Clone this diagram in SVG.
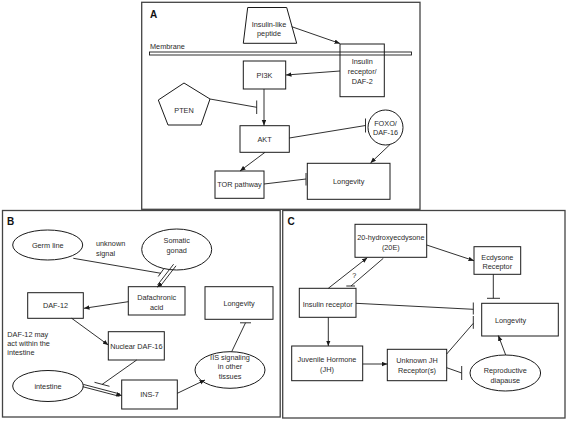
<svg xmlns="http://www.w3.org/2000/svg" width="567" height="421" viewBox="0 0 567 421">
<defs>
<marker id="ah" markerUnits="userSpaceOnUse" markerWidth="6" markerHeight="5" refX="5.5" refY="2.25" orient="auto">
<path d="M0,0 L5.5,2.25 L0,4.5 z" fill="#1a1a1a"/>
</marker>
</defs>
<style>
.frame{fill:none;stroke:#444;stroke-width:1.3}
.n{fill:#fff;stroke:#1a1a1a;stroke-width:1}
.nf{fill:none;stroke:#1a1a1a;stroke-width:1}
.e{fill:none;stroke:#1a1a1a;stroke-width:0.9}
.a{marker-end:url(#ah)}
text{font-family:"Liberation Sans",Arial,sans-serif;font-size:7.3px;fill:#2a2a2a;text-anchor:middle}
.l{text-anchor:start}
.p{font-size:10px;font-weight:bold;fill:#111;text-anchor:start}
</style>
<rect width="567" height="421" fill="#fff"/>
<!-- frames -->
<rect class="frame" x="141.7" y="2.3" width="278.3" height="207"/>
<rect class="frame" x="2.5" y="210.5" width="277.7" height="206.5"/>
<rect class="frame" x="282.7" y="210.5" width="282.3" height="207.5"/>
<text class="p" x="150" y="18">A</text>
<text class="p" x="7" y="224.5">B</text>
<text class="p" x="287.5" y="224.5">C</text>

<!-- Panel A -->
<g id="membrane"><rect x="149.5" y="52" width="262" height="3" fill="#fff" stroke="#1a1a1a" stroke-width="0.9"/><text class="l" x="150" y="49">Membrane</text></g>
<g id="peptide"><polygon class="n" points="247.7,7.5 286.7,7.5 296.7,43.3 243.3,43.3"/><text x="269" y="26.6">Insulin-like</text><text x="269" y="36">peptide</text></g>
<g id="receptorA"><rect class="nf" x="340" y="44" width="44.3" height="52.7"/><text x="362.2" y="64.3">Insulin</text><text x="362.2" y="74.3">receptor/</text><text x="362.2" y="83.6">DAF-2</text></g>
<g id="pi3k"><rect class="n" x="243.3" y="61" width="42.4" height="28"/><text x="264.5" y="77.6">PI3K</text></g>
<g id="pten"><polygon class="n" points="184,83 210,99 201,125 168,125 158.3,100"/><text x="184" y="112.6">PTEN</text></g>
<g id="akt"><rect class="n" x="240" y="125.7" width="49.3" height="26.6"/><text x="264.6" y="141.6">AKT</text></g>
<g id="foxo"><ellipse class="n" cx="385.5" cy="127.5" rx="17.5" ry="17.5"/><text x="385.5" y="126">FOXO/</text><text x="385.5" y="135">DAF-16</text></g>
<g id="longevityA"><rect class="n" x="307.3" y="163.3" width="82.7" height="36"/><text x="348.7" y="184">Longevity</text></g>
<g id="tor"><rect class="n" x="215" y="171" width="49" height="27.3"/><text x="239.5" y="187.3">TOR pathway</text></g>

<!-- Panel B -->
<g id="germline"><ellipse class="n" cx="47.7" cy="245" rx="35" ry="15"/><text x="47.7" y="247.6">Germ line</text></g>
<g id="unknownsignal"><text class="l" x="96" y="246">unknown</text><text class="l" x="96" y="256">signal</text></g>
<g id="gonad"><ellipse class="n" cx="176.7" cy="249.5" rx="35" ry="20.5"/><text x="176.7" y="242.6">Somatic</text><text x="176.7" y="252.6">gonad</text></g>
<g id="dafachronic"><rect class="n" x="128.3" y="286.7" width="56.7" height="28.3"/><text x="156.7" y="300.3">Dafachronic</text><text x="156.7" y="310.3">acid</text></g>
<g id="daf12"><rect class="n" x="27.7" y="292.7" width="55.6" height="25.6"/><text x="55.5" y="308">DAF-12</text></g>
<g id="longevityB"><rect class="n" x="205" y="286.7" width="68" height="32.6"/><text x="239" y="305.6">Longevity</text></g>
<g id="note"><text class="l" x="7.3" y="336.6">DAF-12 may</text><text class="l" x="7.3" y="346">act within the</text><text class="l" x="7.3" y="355.3">intestine</text></g>
<g id="nucdaf16"><rect class="n" x="108.3" y="331.7" width="56" height="28.3"/><text x="136.3" y="348.6">Nuclear DAF-16</text></g>
<g id="intestine"><ellipse class="n" cx="48" cy="386" rx="35.3" ry="15.5"/><text x="48" y="388.6">intestine</text></g>
<g id="ins7"><rect class="n" x="121.7" y="380" width="55.6" height="29"/><text x="149.5" y="397">INS-7</text></g>
<g id="iis"><ellipse class="n" cx="230" cy="370" rx="35" ry="18.3"/><text x="230" y="360.3">IIS signaling</text><text x="230" y="369.3">in other</text><text x="230" y="378.6">tissues</text></g>

<!-- Panel C -->
<g id="e20"><rect class="n" x="355" y="224.3" width="71.7" height="33"/><text x="390.8" y="240">20-hydroxyecdysone</text><text x="390.8" y="250">(20E)</text></g>
<g id="ecr"><rect class="n" x="474" y="246.7" width="46.7" height="27.6"/><text x="497.3" y="260">Ecdysone</text><text x="497.3" y="269.3">Receptor</text></g>
<g id="insrC"><rect class="n" x="299.3" y="288.3" width="56.7" height="29"/><text x="327.7" y="307">Insulin receptor</text></g>
<g id="longevityC"><rect class="n" x="481.7" y="303.3" width="76.6" height="32.7"/><text x="510.5" y="322.6">Longevity</text></g>
<g id="jh"><rect class="n" x="291.7" y="346" width="71" height="34.7"/><text x="327" y="361.6">Juvenile Hormone</text><text x="327" y="372">(JH)</text></g>
<g id="jhr"><rect class="n" x="387.3" y="349.3" width="59.4" height="31.4"/><text x="417" y="362.6">Unknown JH</text><text x="417" y="372.6">Receptor(s)</text></g>
<g id="diapause"><ellipse class="n" cx="505.3" cy="373" rx="35.3" ry="18"/><text x="505.3" y="373.3">Reproductive</text><text x="505.3" y="383.3">diapause</text></g>

<g id="connectors">
<!-- A -->
<line class="e a" x1="291.7" y1="26.7" x2="340" y2="43.5"/>
<line class="e a" x1="340" y1="71" x2="286" y2="75"/>
<line class="e a" x1="264" y1="89" x2="264" y2="125.5"/>
<line class="e" x1="210" y1="99" x2="256.7" y2="107.3"/><line class="e" x1="256.7" y1="100.5" x2="256.7" y2="114"/>
<line class="e" x1="289.3" y1="138" x2="365.5" y2="125.5"/><line class="e" x1="365.5" y1="118.5" x2="365.5" y2="132.5"/>
<line class="e a" x1="390" y1="144.5" x2="370.5" y2="163"/>
<line class="e a" x1="265" y1="152.3" x2="240" y2="171"/>
<line class="e" x1="264" y1="184" x2="306" y2="179"/><line class="e" x1="306" y1="173" x2="306" y2="185.5"/>
<!-- B -->
<line class="e" x1="73.3" y1="258.3" x2="161" y2="273.3"/><line class="e" x1="164" y1="268.5" x2="158.2" y2="276.5"/>
<line class="e" x1="176" y1="265.8" x2="160" y2="286.5"/><line class="e" x1="173.6" y1="264.2" x2="157.6" y2="284.9"/>
<line class="e a" x1="159" y1="285.5" x2="157" y2="287.2"/>
<line class="e a" x1="128.3" y1="301.7" x2="84" y2="308.3"/>
<line class="e a" x1="71.7" y1="318.3" x2="108.3" y2="345"/>
<line class="e" x1="83.3" y1="384.4" x2="120" y2="394"/><line class="e" x1="82.7" y1="386.7" x2="119.4" y2="396.3"/>
<line class="e a" x1="118" y1="394.7" x2="121.7" y2="395.6"/>
<line class="e" x1="136.7" y1="360" x2="102" y2="384.5"/><line class="e" x1="94.5" y1="382.3" x2="109.5" y2="386.3"/>
<line class="e a" x1="177.3" y1="393.3" x2="205" y2="380"/>
<line class="e" x1="231.7" y1="351.7" x2="245.5" y2="322.8"/><line class="e" x1="240" y1="322.8" x2="251" y2="322.8"/>
<!-- C -->
<line class="e a" x1="426.7" y1="245" x2="474" y2="260.7"/>
<line class="e a" x1="328.3" y1="288.3" x2="367.3" y2="257.7"/>
<line class="e" x1="383.3" y1="258.3" x2="351" y2="286"/><line class="e" x1="346.3" y1="286" x2="355" y2="286"/>
<text x="354.3" y="277.6">?</text>
<line class="e" x1="356" y1="303.3" x2="473.3" y2="309.3"/><line class="e" x1="473.3" y1="302.5" x2="473.3" y2="314.5"/>
<line class="e" x1="493.3" y1="274.3" x2="493.3" y2="298.3"/><line class="e" x1="487" y1="298.3" x2="500" y2="298.3"/>
<line class="e a" x1="328.3" y1="317.3" x2="328.3" y2="346"/>
<line class="e a" x1="362.7" y1="364" x2="387.3" y2="364"/>
<line class="e" x1="446.7" y1="354" x2="473.3" y2="323.3"/><line class="e" x1="473.3" y1="316" x2="473.3" y2="328.8"/>
<line class="e" x1="446.7" y1="367.7" x2="461.7" y2="373"/><line class="e" x1="461.7" y1="366" x2="461.7" y2="380"/>
<line class="e a" x1="505.7" y1="355" x2="498.3" y2="335.5"/>
</g>
</svg>
